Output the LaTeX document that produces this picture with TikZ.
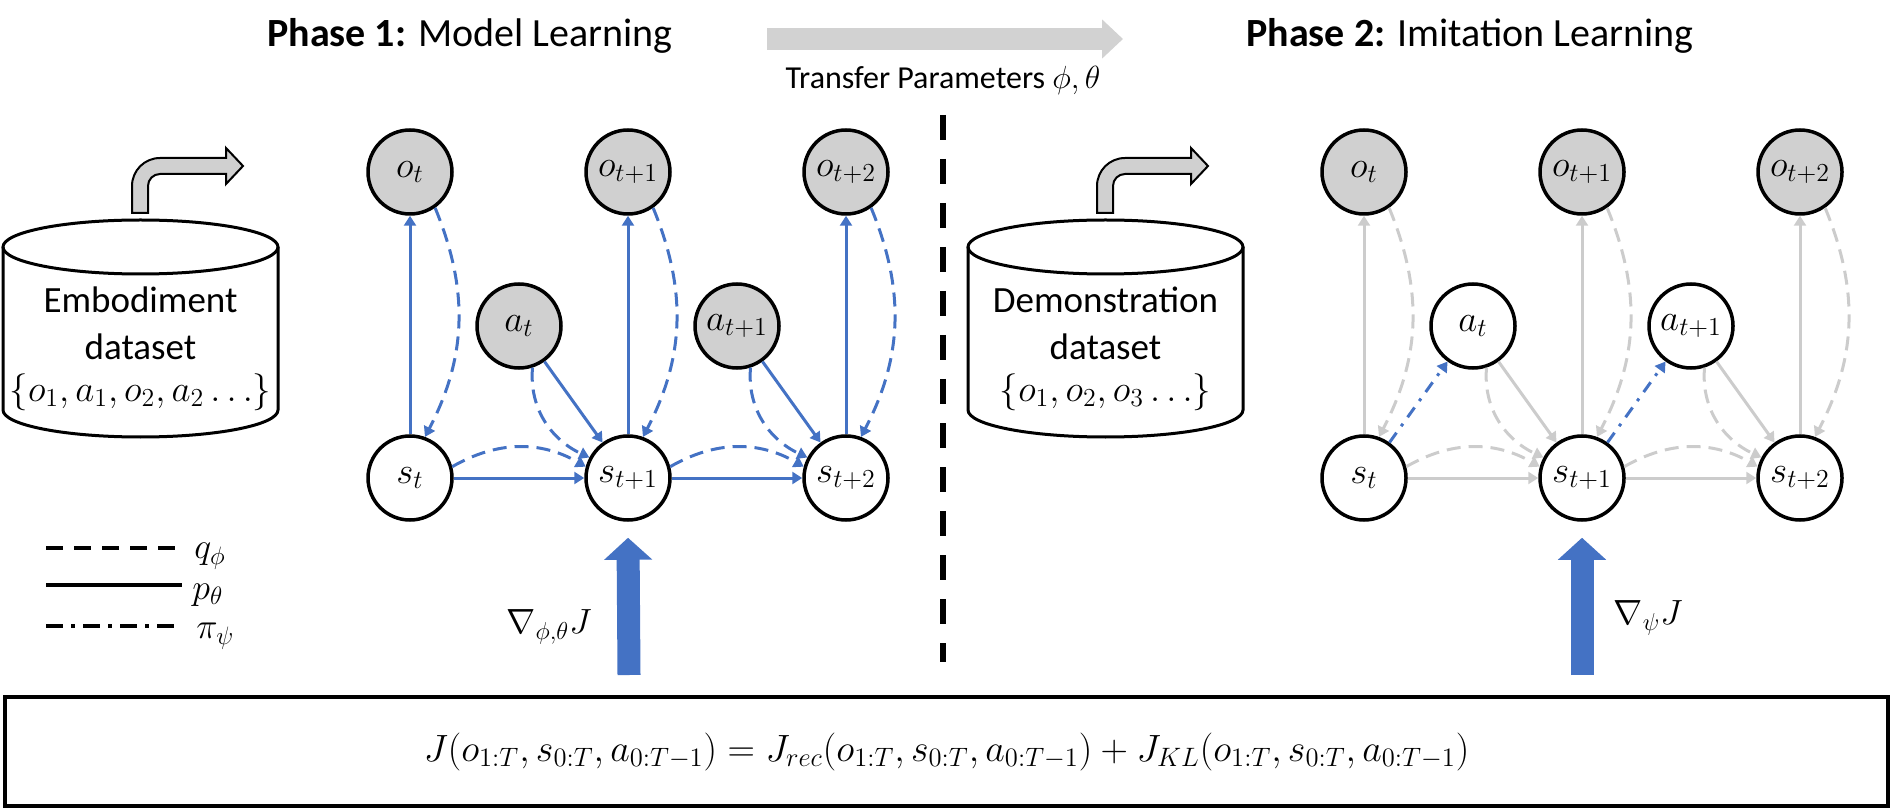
\RequirePackage{fix-cm}
\documentclass[tikz,border=0pt]{standalone}
\usepackage{fontspec}
\setmainfont{Carlito}
\usetikzlibrary{positioning, arrows.meta, calc}

\definecolor{netblue}{RGB}{68,114,196}
\definecolor{fadegray}{RGB}{204,204,204}
\definecolor{obsgray}{RGB}{208,208,208}
\definecolor{xfergray}{RGB}{210,210,210}

\begin{document}
\begin{tikzpicture}[
    x=0.5pt, y=-0.5pt,
    >={Triangle[length=5pt,width=6pt]}, % small filled tips
    % Styles
    latent/.style={ % latent state or action
        circle,
        minimum size=42pt,
        inner sep=0pt,
        draw,
        fill=white,
        line width=1.75pt,
        font=\fontsize{18.5}{20}\selectfont
    },
    observed/.style={ % observed frame
        latent,
        fill=obsgray
    },
    flow/.style={ % generative model p_theta
        ->,
        line width=1.5pt
    },
    qflow/.style={ % inference model q_phi
        flow,
        dash pattern=on 7pt off 4pt
    },
    piflow/.style={ % policy pi_psi
        flow,
        netblue,
        dash pattern=on 6pt off 4pt on 1.5pt off 4pt
    },
    dataset/.style={ % database drum
        line width=1.5pt
    },
    dbtext/.style={
        font=\fontsize{18.5}{20}\selectfont
    },
    bentarrow/.style={
        draw,
        line width=1pt,
        fill=obsgray
    },
    gradarrow/.style={ % gradient arrows
        -{Triangle[length=11pt,width=23.5pt]},
        line width=11.5pt,
        netblue
    },
    legline/.style={
        line width=1.75pt
    },
    mathtxt/.style={
        font=\fontsize{18}{20}\selectfont
    }
]

    \useasboundingbox (0,0) rectangle (1894,812);

    % Titles
    \node[anchor=base, font=\fontsize{20}{24}\selectfont] (title1) at (470,47) {\textbf{Phase 1:} Model Learning};
    \node[anchor=base, font=\fontsize{20}{24}\selectfont] (title2) at (1470,47) {\textbf{Phase 2:} Imitation Learning};

    % Transfer arrow
    \coordinate (xfer) at (767,39);
    \draw[-{Triangle[length=10.5pt,width=19pt]}, line width=11pt, xfergray] (xfer) -- ++(356,0);
    \node[anchor=base, font=\fontsize{16}{18}\selectfont] (xferlbl) at (943,89) {Transfer Parameters $\phi, \theta$};

    % Divider
    \coordinate (divtop) at (943,115);
    \draw[line width=3pt, dash pattern=on 12.5pt off 9.5pt] (divtop) -- ++(0,547);

    % Datasets
    \foreach \cx in {140.5, 1105.5} {
        \draw[dataset] (\cx-137.5,247) -- (\cx-137.5,410)
            arc[start angle=180, end angle=0, x radius=137.5, y radius=27] -- (\cx+137.5,247);
        \draw[dataset] (\cx,247) ellipse[x radius=137.5, y radius=27];
        \begin{scope}[shift={(\cx-0.5,0)}]
            \draw[bentarrow] (-8,213) -- (-8,186) arc[start angle=180, end angle=270, radius=28]
                -- (86,158) -- (86,148) -- (103,166) -- (86,184) -- (86,174) -- (20,174)
                arc[start angle=270, end angle=180, radius=12] -- (8,213) -- cycle;
        \end{scope}
    }
    \node[dbtext] (embname) at (140.5,300) {Embodiment};
    \node[dbtext] (embdata) at (140.5,347) {dataset};
    \node[dbtext] (embset) at (140.5,392) {$\{o_1, a_1, o_2, a_2 \ldots\}$};
    \node[dbtext] (demname) at (1105.5,300) {Demonstration};
    \node[dbtext] (demdata) at (1105.5,347) {dataset};
    \node[dbtext] (demset) at (1105.5,392) {$\{o_1, o_2, o_3 \ldots\}$};

    % Both graphs
    \foreach \P/\dx/\ec/\af in {m/0/netblue/obsgray, i/954/fadegray/white} {
        \foreach \X/\t in {1/t, 2/t+1, 3/t+2} {
            \node[observed] (\P o\X) at (192+218*\X+\dx,172) {$o_{\t}$};
            \node[latent] (\P s\X) at (192+218*\X+\dx,478) {$s_{\t}$};
        }
        \foreach \X/\t in {1/t, 2/t+1} {
            \node[latent, fill=\af] (\P a\X) at (301+218*\X+\dx,326) {$a_{\t}$};
        }
        % Decoder and encoder
        \foreach \X in {1,2,3} {
            \draw[flow, \ec] (\P s\X) -- (\P o\X);
            \draw[qflow, \ec] (\P o\X.-55) to[bend left=25] (\P s\X.70);
        }
        % Transitions
        \foreach \X/\Y in {1/2, 2/3} {
            \draw[flow, \ec] (\P s\X) -- (\P s\Y);
            \draw[qflow, \ec] (\P s\X.15) to[bend left=30] (\P s\Y.165);
            \draw[flow, \ec] (\P a\X) -- (\P s\Y);
            \draw[qflow, \ec] (\P a\X.-72) to[out=-95, in=155] (\P s\Y.152);
        }
    }

    % Policy
    \foreach \X in {1,2} {
        \draw[piflow] (is\X) -- (ia\X);
    }

    % Gradients
    \coordinate (mgrad) at (629,675);
    \coordinate (igrad) at (1582,675);
    \draw[gradarrow] (mgrad) -- ($(ms2.south)+(0,16)$);
    \draw[gradarrow] (igrad) -- ($(is2.south)+(0,16)$);
    \node[font=\fontsize{17.5}{19}\selectfont] (mgradlbl) at (549,627) {$\nabla_{\phi,\theta} J$};
    \node[font=\fontsize{17.5}{19}\selectfont] (igradlbl) at (1648,618) {$\nabla_{\psi} J$};

    % Legend
    \coordinate (legq) at (46,548);
    \coordinate (legp) at (46,585);
    \coordinate (legpi) at (46,626);
    \draw[legline, dash pattern=on 8.5pt off 5.5pt] (legq) -- ++(134,0)
        node[right=3pt, mathtxt, yshift=-4pt] (qlbl) {$q_{\phi}$};
    \draw[legline] (legp) -- ++(136,0)
        node[right=1pt, mathtxt, yshift=-5pt] (plbl) {$p_{\theta}$};
    \draw[legline, dash pattern=on 8.5pt off 4pt on 2pt off 4pt] (legpi) -- ++(132,0)
        node[right=5pt, mathtxt, yshift=-5pt] (pilbl) {$\pi_{\psi}$};

    % Objective
    \node[draw, line width=2pt, minimum width=941.5pt, minimum height=54.5pt,
        font=\fontsize{19}{21}\selectfont] (objective) at (946.5,751.5)
        {$J(o_{1:T}, s_{0:T}, a_{0:T-1}) = J_{rec}(o_{1:T}, s_{0:T}, a_{0:T-1}) + J_{KL}(o_{1:T}, s_{0:T}, a_{0:T-1})$};

\end{tikzpicture}
\end{document}
